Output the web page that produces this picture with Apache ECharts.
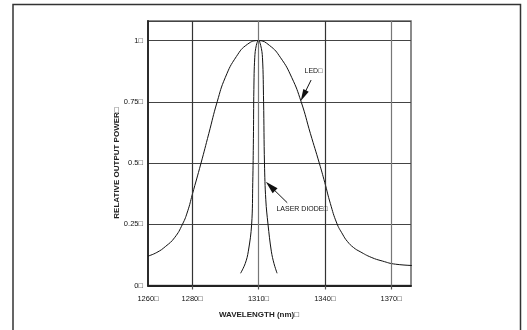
<!DOCTYPE html>
<html>
<head>
<meta charset="utf-8">
<script src="https://cdn.jsdelivr.net/npm/echarts@6/dist/echarts.min.js"></script>
<style>
  html, body { margin: 0; padding: 0; background: #fff; }
  #chart { width: 527px; height: 330px; }
</style>
</head>
<body>
<div id="chart"></div>
<script>
// values
var xLabels = [1260, 1280, 1310, 1340, 1370];
var xGrid = [1280, 1310, 1340, 1370];
var yLabels = [0, 0.25, 0.5, 0.75, 1];

var ledData = [
  [1260, 0.12], [1264, 0.135], [1268, 0.16], [1272, 0.195], [1275.6, 0.25],
  [1278, 0.305], [1280, 0.37], [1284, 0.5], [1287.5, 0.62], [1291.3, 0.75],
  [1295, 0.85], [1300, 0.935], [1305, 0.985], [1310, 1.0], [1315, 0.98],
  [1320, 0.93], [1325, 0.85], [1329.3, 0.75], [1333.5, 0.62], [1337.5, 0.5],
  [1340, 0.42], [1342.5, 0.335], [1345.4, 0.255], [1348, 0.21], [1350.2, 0.18],
  [1353, 0.155], [1356, 0.138], [1361, 0.115], [1366, 0.1], [1372, 0.087],
  [1382.5, 0.081]
];

var laserData = [
  [1301.9, 0.05], [1304, 0.09], [1305.4, 0.14], [1306.9, 0.25], [1307.4, 0.42],
  [1307.7, 0.6], [1307.9, 0.8], [1308.3, 0.93], [1309, 0.98], [1310, 1.0],
  [1311, 0.98], [1311.8, 0.93], [1312.3, 0.75], [1312.7, 0.5], [1313.3, 0.35],
  [1314.3, 0.25], [1315.8, 0.14], [1317, 0.09], [1318.4, 0.05]
];

var txtFont = "'Liberation Sans Narrow', 'Liberation Sans', Arial, sans-serif";
var chart = echarts.init(document.getElementById("chart"));

var option = {
  animation: false,
  backgroundColor: "#fff",
  grid: {
    left: 148,
    right: 116,
    top: 21,
    bottom: 44.5,
    show: true,
    borderColor: "#666",
    borderWidth: 1.5,
  },
  xAxis: {
    type: "value",
    min: 1260,
    max: 1379,
    axisLine: { show: true, onZero: false, lineStyle: { color: "#222", width: 2 } },
    axisTick: {
      show: true,
      customValues: xGrid,
      length: 4,
      lineStyle: { color: "#555", width: 1.2 },
    },
    axisLabel: {
      customValues: xLabels,
      margin: 9,
      fontSize: 7.5,
      fontFamily: txtFont,
      color: "#111",
      formatter: function (v) {
        return v + "\u25a1";
      },
    },
    splitLine: { show: false },
  },
  yAxis: {
    type: "value",
    min: 0,
    max: 1.08,
    interval: 0.25,
    axisLine: { show: true, lineStyle: { color: "#222", width: 1.8 } },
    axisTick: { show: false },
    axisLabel: {
      margin: 5,
      fontSize: 7.5,
      fontFamily: txtFont,
      color: "#111",
      formatter: function (v) {
        return yLabels.indexOf(v) >= 0 ? v + "\u25a1" : "";
      },
    },
    splitLine: { show: true, lineStyle: { color: "#444", width: 1.2 } },
  },
  graphic: [
    {
      // page frame
      type: "polyline",
      shape: { points: [[13, 331], [13, 4.5], [520.5, 4.5], [520.5, 331]] },
      style: { stroke: "#333", lineWidth: 1.5, fill: null },
    },
    {
      type: "text",
      x: 117,
      y: 163,
      rotation: Math.PI / 2,
      style: {
        text: "RELATIVE OUTPUT POWER\u25a1",
        font: "bold 8px " + txtFont,
        fill: "#222",
        align: "center",
        verticalAlign: "middle",
      },
    },
    {
      type: "text",
      x: 259,
      y: 315,
      style: {
        text: "WAVELENGTH (nm)\u25a1",
        font: "bold 8px " + txtFont,
        fill: "#222",
        align: "center",
        verticalAlign: "middle",
      },
    },
  ],
  series: [
    {
      name: "LED",
      type: "line",
      data: ledData,
      smooth: 0.5,
      showSymbol: false,
      clip: false,
      lineStyle: { color: "#111", width: 1 },
      markLine: {
        silent: true,
        symbol: ["none", "none"],
        label: { show: false },
        data: [
          { xAxis: xGrid[0], lineStyle: { color: "#333", width: 1.2, type: "solid" } },
          { xAxis: xGrid[1], lineStyle: { color: "#777", width: 1.2, type: "solid" } },
          { xAxis: xGrid[2], lineStyle: { color: "#333", width: 1.2, type: "solid" } },
          { xAxis: xGrid[3], lineStyle: { color: "#777", width: 1.2, type: "solid" } },
          [
            { coord: [1333.8, 0.839], symbol: "none" },
            {
              coord: [1330.3, 0.775],
              symbol: "triangle",
              symbolSize: [6, 12],
              lineStyle: { color: "#111", width: 1, type: "solid" },
            },
          ],
        ],
      },
      markPoint: {
        silent: true,
        symbol: "circle",
        symbolSize: 1,
        itemStyle: { color: "rgba(0,0,0,0)" },
        data: [
          {
            coord: [1330.6, 0.874],
            label: {
              show: true,
              position: "right",
              distance: 0,
              formatter: "LED\u25a1",
              fontSize: 7,
              fontFamily: txtFont,
              color: "#111",
            },
          },
          {
            coord: [1317.9, 0.312],
            label: {
              show: true,
              position: "right",
              distance: 0,
              formatter: "LASER DIODE\u25a1",
              fontSize: 7,
              fontFamily: txtFont,
              color: "#111",
            },
          },
        ],
      },
    },
    {
      name: "Laser diode",
      type: "line",
      data: laserData,
      smooth: 0.4,
      showSymbol: false,
      lineStyle: { color: "#111", width: 1 },
      markLine: {
        silent: true,
        label: { show: false },
        data: [
          [
            { coord: [1323.0, 0.338], symbol: "none" },
            {
              coord: [1315.4, 0.405],
              symbol: "triangle",
              symbolSize: [7, 13],
              lineStyle: { color: "#111", width: 1, type: "solid" },
            },
          ],
        ],
      },
    },
  ],
};

chart.setOption(option);
</script>
</body>
</html>
